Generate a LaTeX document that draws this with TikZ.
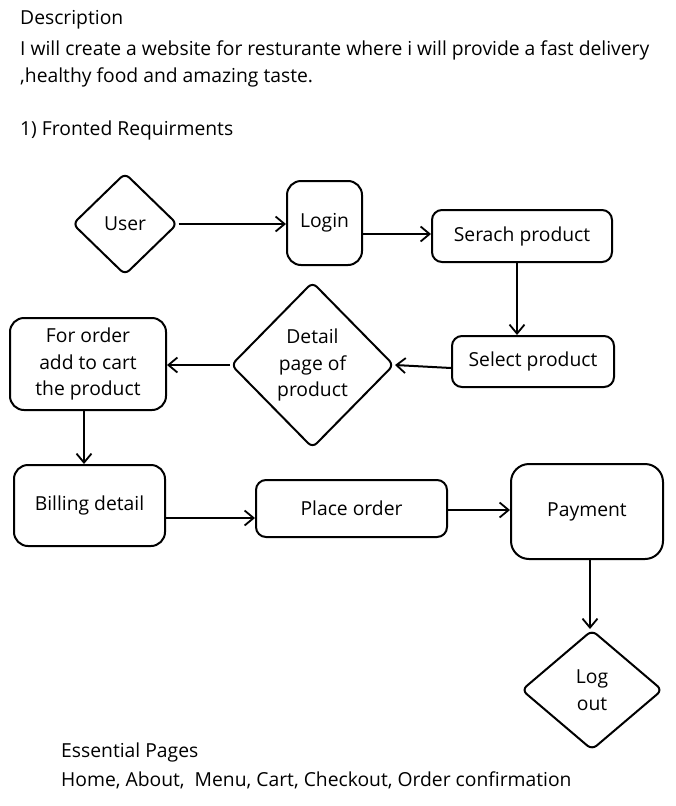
\documentclass[tikz,border=0pt]{standalone}
\usepackage{fontspec}
\setmainfont{Open Sans}
\usetikzlibrary{arrows.meta,shapes.geometric}
\tikzset{
  box/.style={draw, line width=2pt, rounded corners=10pt, inner sep=0pt, align=center},
  dia/.style={draw, diamond, line width=2pt, rounded corners=6pt, inner sep=0pt, align=center},
  txt/.style={anchor=west, inner sep=0pt},
  flow/.style={line width=2pt, -{Straight Barb[length=9pt,width=15pt,line width=1.8pt]}}
}

\begin{document}
\begin{tikzpicture}[x=1pt, y=-1pt, font=\fontsize{19.3}{26.5}\selectfont]
  \useasboundingbox (0,0) rectangle (676,806);
  % header text
  \node[txt] (head) at (20,20) {Description};
  \node[txt] (desc1) at (20,50) {I will create a website for resturante where i will provide a fast delivery};
  \node[txt] (desc2) at (20,77) {,healthy food and amazing taste.};
  \node[txt] (front) at (20,130) {1) Fronted Requirments};
  % flow shapes
  \node[dia, minimum width=105pt, minimum height=102pt] (user) at (125,224) {User};
  \node[box, minimum width=75pt, minimum height=84pt, rounded corners=14pt] (login) at (324.5,223) {Login};
  \node[box, minimum width=180pt, minimum height=52pt] (search) at (522,236) {Serach product};
  \node[box, minimum width=162pt, minimum height=51pt] (select) at (533,361.5) {Select product};
  \node[dia, minimum width=163pt, minimum height=166pt] (detail) at (312.5,365) {Detail\\page of\\product};
  \node[box, minimum width=156pt, minimum height=92pt, rounded corners=14pt] (cart) at (88,364) {For order\\add to cart\\the product};
  \node[box, minimum width=151pt, minimum height=81pt, rounded corners=14pt] (bill) at (89.5,505.5) {Billing detail};
  \node[box, minimum width=191pt, minimum height=57pt] (place) at (351.5,508.5) {Place order};
  \node[box, minimum width=152pt, minimum height=95pt, rounded corners=18pt] (pay) at (587,511.5) {Payment};
  \node[dia, minimum width=141pt, minimum height=120pt] (logout) at (592,690) {Log\\out};
  % footer text
  \node[txt] (pages) at (61,752) {Essential Pages};
  \node[txt] (list) at (61,780) {Home, About,\ \ Menu, Cart, Checkout, Order confirmation};
  % connectors
  \draw[flow] (user.east) -- (login.west |- user.east);
  \draw[flow] (login.east |- 0,234) -- (search.west |- 0,234);
  \draw[flow] (search.south -| 517,0) -- (select.north -| 517,0);
  \draw[flow] (select.west |- 0,368) -- (detail.east);
  \draw[flow] (detail.west) -- (cart.east |- detail.west);
  \draw[flow] (cart.south -| 84,0) -- (bill.north -| 84,0);
  \draw[flow] (bill.east |- 0,518) -- (place.west |- 0,518);
  \draw[flow] (place.east |- 0,510) -- (pay.west |- 0,510);
  \draw[flow] (pay.south -| 590,0) -- (logout.north -| 590,0);
\end{tikzpicture}
\end{document}
